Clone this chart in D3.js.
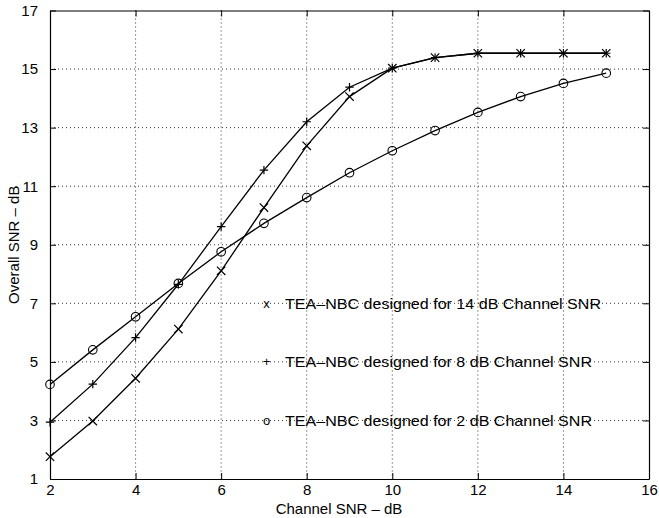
<!DOCTYPE html>
<html>
<head>
  <script src="https://d3js.org/d3.v7.min.js"></script>
  <style>
    body { margin: 0; background: #fff; }
    text { font-family: "Liberation Sans", Arial, sans-serif; fill: #000; }
  </style>
</head>
<body>
  <script>
    // Channel SNR (dB)
    const channelSnr = [2, 3, 4, 5, 6, 7, 8, 9, 10, 11, 12, 13, 14, 15];
    // Overall SNR for each design
    const snr14 = [1.76, 2.98, 4.44, 6.12, 8.11, 10.27, 12.38, 14.06, 15.03, 15.39, 15.54, 15.54, 15.54, 15.54];
    const snr8  = [2.94, 4.24, 5.83, 7.65, 9.62, 11.55, 13.2, 14.38, 15.03, 15.39, 15.54, 15.54, 15.54, 15.54];
    const snr2  = [4.23, 5.41, 6.54, 7.68, 8.76, 9.73, 10.61, 11.46, 12.21, 12.9, 13.52, 14.06, 14.51, 14.86];

    const xTicks = [2, 4, 6, 8, 10, 12, 14, 16];
    const yTicks = [1, 3, 5, 7, 9, 11, 13, 15, 17];

    const legendLabels = [
      "TEA\u2013NBC designed for 14 dB Channel SNR",
      "TEA\u2013NBC designed for 8 dB Channel SNR",
      "TEA\u2013NBC designed for 2 dB Channel SNR"
    ];
    const legendMarks = ["x", "+", "o"];
    const legendY = [7, 5, 3];

    const w = 659, h = 518;
    const mLeft = 50, mRight = 649, mTop = 10.5, mBottom = 479;

    const xScale = d3.scaleLinear().domain([2, 16]).range([mLeft, mRight]);
    const yScale = d3.scaleLinear().domain([1, 17]).range([mBottom, mTop]);

    const svg = d3.select("body").append("svg")
      .attr("width", w)
      .attr("height", h);

    // dotted grid
    const grid = svg.append("g")
      .attr("stroke", "#000")
      .attr("stroke-width", 0.8)
      .attr("stroke-dasharray", "1,3");
    grid.selectAll(".gx")
      .data(xTicks.slice(1, -1))
      .enter().append("line")
      .attr("x1", d => xScale(d)).attr("x2", d => xScale(d))
      .attr("y1", mTop).attr("y2", mBottom);
    grid.selectAll(".gy")
      .data(yTicks.slice(1, -1))
      .enter().append("line")
      .attr("x1", mLeft).attr("x2", mRight)
      .attr("y1", d => yScale(d)).attr("y2", d => yScale(d));

    // axes with inward ticks, box on all sides
    const tickLen = 6;
    svg.append("g")
      .attr("transform", "translate(0," + mBottom + ")")
      .call(d3.axisBottom(xScale).tickValues(xTicks).tickSizeInner(-tickLen).tickSizeOuter(0).tickPadding(5))
      .call(g => g.selectAll("text").attr("font-size", 15));
    svg.append("g")
      .attr("transform", "translate(0," + mTop + ")")
      .call(d3.axisTop(xScale).tickValues(xTicks).tickSizeInner(-tickLen).tickSizeOuter(0).tickFormat(""));
    svg.append("g")
      .attr("transform", "translate(" + mLeft + ",0)")
      .call(d3.axisLeft(yScale).tickValues(yTicks).tickSizeInner(-tickLen).tickSizeOuter(0).tickPadding(12))
      .call(g => g.selectAll("text").attr("font-size", 15));
    svg.append("g")
      .attr("transform", "translate(" + mRight + ",0)")
      .call(d3.axisRight(yScale).tickValues(yTicks).tickSizeInner(-tickLen).tickSizeOuter(0).tickFormat(""));
    svg.selectAll(".domain").attr("stroke", "#000").attr("stroke-width", 1.2);
    svg.selectAll(".tick line").attr("stroke", "#000");
    svg.selectAll(".tick text").attr("font-family", "Liberation Sans, Arial, sans-serif");

    // lines
    const line = d3.line()
      .x((d, i) => xScale(channelSnr[i]))
      .y(d => yScale(d));

    const series = [snr2, snr8, snr14];
    svg.selectAll(".series")
      .data(series)
      .enter().append("path")
      .attr("d", line)
      .attr("fill", "none")
      .attr("stroke", "#000")
      .attr("stroke-width", 1.3);

    // markers
    const m = 4.2;
    const xMarks = svg.append("g").attr("stroke", "#000").attr("stroke-width", 1.2);
    snr14.forEach((v, i) => {
      const cx = xScale(channelSnr[i]), cy = yScale(v);
      xMarks.append("path")
        .attr("d", `M${cx - m},${cy - m}L${cx + m},${cy + m}M${cx - m},${cy + m}L${cx + m},${cy - m}`);
    });
    const pMarks = svg.append("g").attr("stroke", "#000").attr("stroke-width", 1.2);
    snr8.forEach((v, i) => {
      const cx = xScale(channelSnr[i]), cy = yScale(v);
      pMarks.append("path")
        .attr("d", `M${cx - m},${cy}L${cx + m},${cy}M${cx},${cy - m}L${cx},${cy + m}`);
    });
    svg.append("g").selectAll("circle")
      .data(snr2)
      .enter().append("circle")
      .attr("cx", (d, i) => xScale(channelSnr[i]))
      .attr("cy", d => yScale(d))
      .attr("r", 4.3)
      .attr("fill", "none")
      .attr("stroke", "#000")
      .attr("stroke-width", 1.1);

    // in-plot legend text
    legendLabels.forEach((t, i) => {
      const y = yScale(legendY[i]);
      svg.append("text")
        .attr("x", xScale(7.06))
        .attr("y", y)
        .attr("dy", "0.35em")
        .attr("text-anchor", "middle")
        .attr("font-size", 13)
        .text(legendMarks[i]);
      svg.append("text")
        .attr("x", 285)
        .attr("y", y)
        .attr("dy", "0.35em")
        .attr("font-size", 15)
        .attr("textLength", i === 0 ? 316 : 307)
        .attr("lengthAdjust", "spacingAndGlyphs")
        .text(t);
    });

    // axis titles
    svg.append("text")
      .attr("x", 339)
      .attr("y", 514)
      .attr("text-anchor", "middle")
      .attr("font-size", 15)
      .text("Channel SNR \u2013 dB");
    svg.append("text")
      .attr("transform", "translate(19," + ((mTop + mBottom) / 2) + ") rotate(-90)")
      .attr("text-anchor", "middle")
      .attr("font-size", 15)
      .text("Overall SNR \u2013 dB");
  </script>
</body>
</html>
